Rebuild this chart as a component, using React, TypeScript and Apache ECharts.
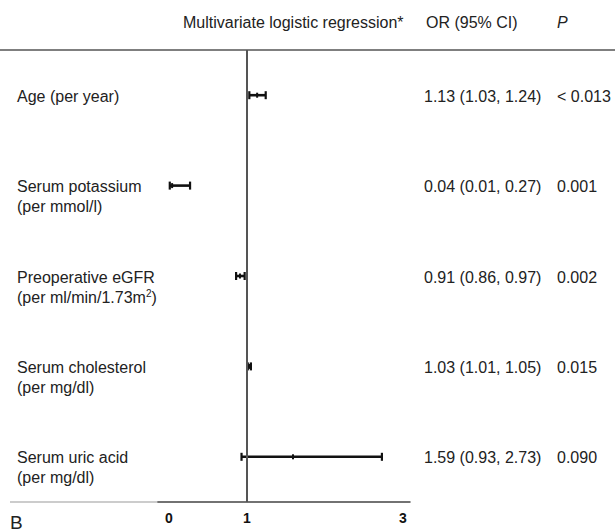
import React, { useEffect, useRef } from 'react';
import * as echarts from 'echarts';

const ROW_LABELS = ['Age (per year)', 'Serum potassium', 'Preoperative eGFR', 'Serum cholesterol', 'Serum uric acid'];
const ROW_SUBLABELS = ['', '(per mmol/l)', '(per ml/min/1.73m²)', '(per mg/dl)', '(per mg/dl)'];
const OR_VALUES = [1.13, 0.04, 0.91, 1.03, 1.59];
const CI_LOWER = [1.03, 0.01, 0.86, 1.01, 0.93];
const CI_UPPER = [1.24, 0.27, 0.97, 1.05, 2.73];
const P_VALUES = ['< 0.013', '0.001', '0.002', '0.015', '0.090'];
const X_TICKS = [0, 1, 3];
const HEADERS = ['Multivariate logistic regression*', 'OR (95% CI)', 'P'];
const PANEL_LABEL = 'B';

const FONT = "'Liberation Sans', Arial, Helvetica, sans-serif";
const TEXT = '#222';

function subRich(s: string) {
  if (!s) return '';
  const parts = s.split('²');
  return parts.map((p, i) => (p ? `{a|${p}}` : '') + (i < parts.length - 1 ? '{s|2}' : '')).join('');
}

export default function App() {
  const ref = useRef<HTMLDivElement>(null);
  useEffect(() => {
    const chart = echarts.init(ref.current!, null, { renderer: 'svg' });
    const data = ROW_LABELS.map((_, i) => [CI_LOWER[i], i, CI_UPPER[i], OR_VALUES[i]]);
    const option: any = {
      animation: false,
      backgroundColor: '#fff',
      grid: { left: 158, right: 205, top: 50, bottom: 30 },
      xAxis: {
        type: 'value',
        min: -0.141,
        max: 3.09,
        splitLine: { show: false },
        axisTick: { show: false },
        axisLine: { show: true, lineStyle: { color: '#444', width: 1.5 } },
        axisLabel: {
          customValues: X_TICKS,
          fontFamily: FONT,
          fontWeight: 'bold',
          fontSize: 14,
          color: '#111',
          margin: 9,
        },
      },
      yAxis: {
        type: 'category',
        inverse: true,
        data: ROW_LABELS,
        show: false,
      },
      graphic: [
        { type: 'line', shape: { x1: 0, y1: 50, x2: 615, y2: 50 }, style: { stroke: '#555', lineWidth: 1.5 } },
        { type: 'line', shape: { x1: 10, y1: 502, x2: 158, y2: 502 }, style: { stroke: '#999', lineWidth: 1.2 } },
        { type: 'text', x: 183, y: 22, style: { text: HEADERS[0], fontFamily: FONT, fontSize: 16, fill: TEXT, verticalAlign: 'middle' } },
        { type: 'text', x: 426, y: 22, style: { text: HEADERS[1], fontFamily: FONT, fontSize: 16, fill: TEXT, verticalAlign: 'middle' } },
        { type: 'text', x: 557, y: 22, style: { text: HEADERS[2], fontFamily: FONT, fontSize: 16, fontStyle: 'italic', fill: TEXT, verticalAlign: 'middle' } },
        { type: 'text', x: 10, y: 522, style: { text: PANEL_LABEL, fontFamily: FONT, fontSize: 19, fill: TEXT, verticalAlign: 'middle' } },
      ],
      series: [
        {
          type: 'custom',
          clip: false,
          encode: { x: [0, 2, 3], y: 1 },
          data,
          renderItem: (params: any, api: any) => {
            const idx = api.value(1);
            const lo = api.coord([api.value(0), idx]);
            const hi = api.coord([api.value(2), idx]);
            const pt = api.coord([api.value(3), idx]);
            const y = lo[1];
            const i = params.dataIndex;
            const stroke = '#111';
            const children: any[] = [
              { type: 'line', shape: { x1: lo[0], y1: y, x2: hi[0], y2: y }, style: { stroke, lineWidth: 2.6 } },
              { type: 'line', shape: { x1: lo[0], y1: y - 4, x2: lo[0], y2: y + 4 }, style: { stroke, lineWidth: 2.2 } },
              { type: 'line', shape: { x1: hi[0], y1: y - 4, x2: hi[0], y2: y + 4 }, style: { stroke, lineWidth: 2.2 } },
              { type: 'line', shape: { x1: pt[0], y1: y - 2.5, x2: pt[0], y2: y + 2.5 }, style: { stroke, lineWidth: 2 } },
              { type: 'text', x: 17, y: y + 1, style: { text: ROW_LABELS[i], fontFamily: FONT, fontSize: 16, fill: TEXT, verticalAlign: 'middle', align: 'left' } },
              {
                type: 'text', x: 424, y: y + 1,
                style: {
                  text: `${OR_VALUES[i].toFixed(2)} (${CI_LOWER[i].toFixed(2)}, ${CI_UPPER[i].toFixed(2)})`,
                  fontFamily: FONT, fontSize: 16, fill: TEXT, verticalAlign: 'middle', align: 'left',
                },
              },
              { type: 'text', x: 557, y: y + 1, style: { text: P_VALUES[i], fontFamily: FONT, fontSize: 16, fill: TEXT, verticalAlign: 'middle', align: 'left' } },
            ];
            if (ROW_SUBLABELS[i]) {
              children.push({
                type: 'text', x: 17, y: y + 21,
                style: {
                  text: subRich(ROW_SUBLABELS[i]),
                  verticalAlign: 'middle', align: 'left',
                  rich: {
                    a: { fontFamily: FONT, fontSize: 16, fill: TEXT, lineHeight: 18 },
                    s: { fontFamily: FONT, fontSize: 10, fill: TEXT, lineHeight: 18, verticalAlign: 'top' },
                  },
                },
              });
            }
            return { type: 'group', children };
          },
          markLine: {
            silent: true,
            symbol: 'none',
            label: { show: false },
            lineStyle: { color: '#555', width: 2, type: 'solid' },
            data: [{ xAxis: 1 }],
          },
        },
      ],
    };
    chart.setOption(option);
    return () => chart.dispose();
  }, []);
  return (
    <div
      ref={ref}
      style={{ position: 'fixed', left: 0, top: 0, width: 615, height: 532, background: '#fff' }}
    />
  );
}
